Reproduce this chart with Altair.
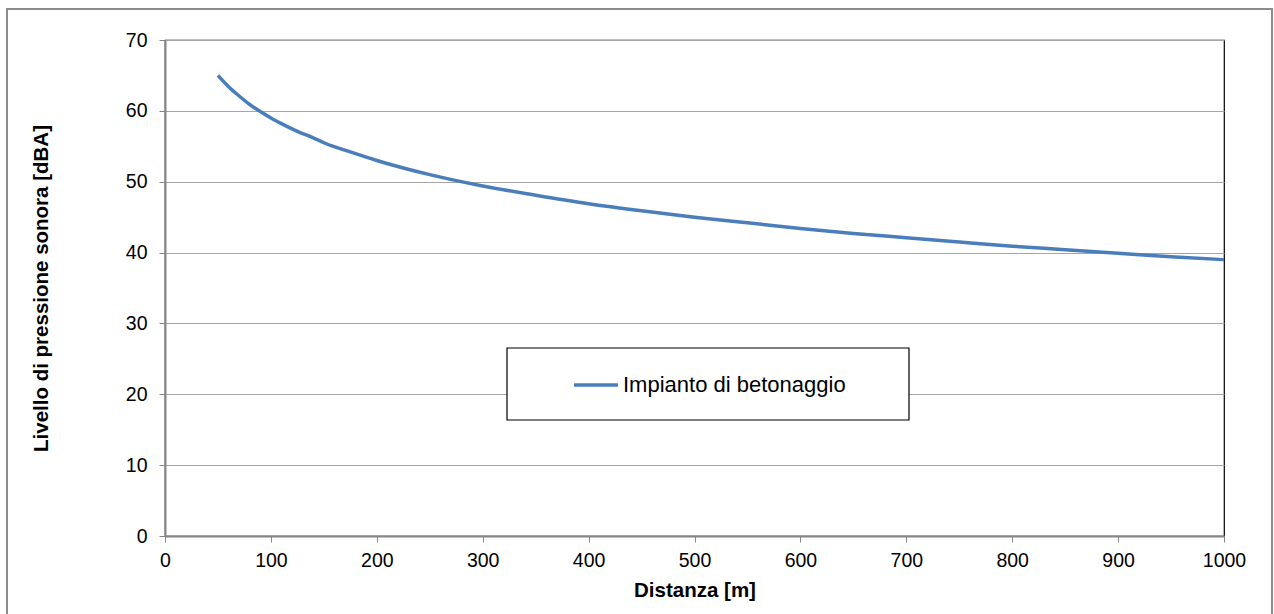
import altair as alt
import pandas as pd

distanza = [50, 60, 70, 80, 90, 100, 110, 125, 140, 150, 175, 200, 250, 300, 350, 400,
            450, 500, 550, 600, 650, 700, 750, 800, 850, 900, 950, 1000]
livello = [65.0, 63.4, 62.1, 60.9, 59.9, 59.0, 58.2, 57.1, 56.2, 55.5, 54.2, 53.0, 51.0,
           49.4, 48.1, 46.9, 45.9, 45.0, 44.2, 43.4, 42.7, 42.1, 41.5, 40.9,
           40.4, 39.9, 39.4, 39.0]
serie = "Impianto di betonaggio"
x_ticks = [0, 100, 200, 300, 400, 500, 600, 700, 800, 900, 1000]
y_ticks = [0, 10, 20, 30, 40, 50, 60, 70]

df = pd.DataFrame({"Distanza": distanza, "Livello": livello, "Serie": [serie] * len(distanza)})

FONT = "Liberation Sans"
W, H = 1059, 496

line = alt.Chart(df).mark_line(strokeWidth=3.5, interpolate="monotone").encode(
    x=alt.X("Distanza:Q", scale=alt.Scale(domain=[0, 1000], nice=False),
            axis=alt.Axis(values=x_ticks, format="d", title="Distanza [m]", grid=False)),
    y=alt.Y("Livello:Q", scale=alt.Scale(domain=[0, 70], nice=False),
            axis=alt.Axis(values=y_ticks, format="d", title="Livello di pressione sonora [dBA]", grid=True)),
    color=alt.Color("Serie:N", scale=alt.Scale(range=["#4a7ebb"]),
                    legend=alt.Legend(title=None, orient="none", legendX=407, legendY=321,
                                      symbolType="stroke", symbolSize=1936,
                                      symbolStrokeWidth=3.5, labelOffset=3, labelLimit=0,
                                      labelFontSize=22, labelFont=FONT, labelColor="#000000",
                                      padding=0)),
)

one = alt.Data(values=[{"k": 1}])

legend_box = alt.Chart(one).mark_rect(fill="white", stroke="#000000", strokeWidth=1.2).encode(
    x=alt.value(342), x2=alt.value(744), y=alt.value(308), y2=alt.value(380)
)

outer = alt.Chart(one).mark_rect(fill=None, stroke="#8c8c8c", strokeWidth=2, clip=False).encode(
    x=alt.value(-158), x2=alt.value(1107), y=alt.value(-31), y2=alt.value(590)
)

chart = alt.layer(outer, legend_box, line).properties(
    width=W, height=H,
    autosize=alt.AutoSizeParams(type="none"),
    padding={"left": 165, "top": 40, "right": 50, "bottom": 78},
    background="white",
).configure_view(
    stroke="#000000", strokeWidth=1.2
).configure_axis(
    domainColor="#868686", domainWidth=2, tickColor="#868686", tickSize=6, tickWidth=1,
    gridColor="#a6a6a6", gridWidth=1, labelFlush=False,
    labelFont=FONT, labelFontSize=19.5, labelColor="#000000",
    titleFont=FONT, titleFontSize=20.5, titleFontWeight="bold", titleColor="#000000",
).configure_axisY(
    labelPadding=12, titlePadding=74
).configure_axisX(
    labelPadding=9, titlePadding=11
)

chart.save("out.html", embed_options={"renderer": "svg", "actions": False})
